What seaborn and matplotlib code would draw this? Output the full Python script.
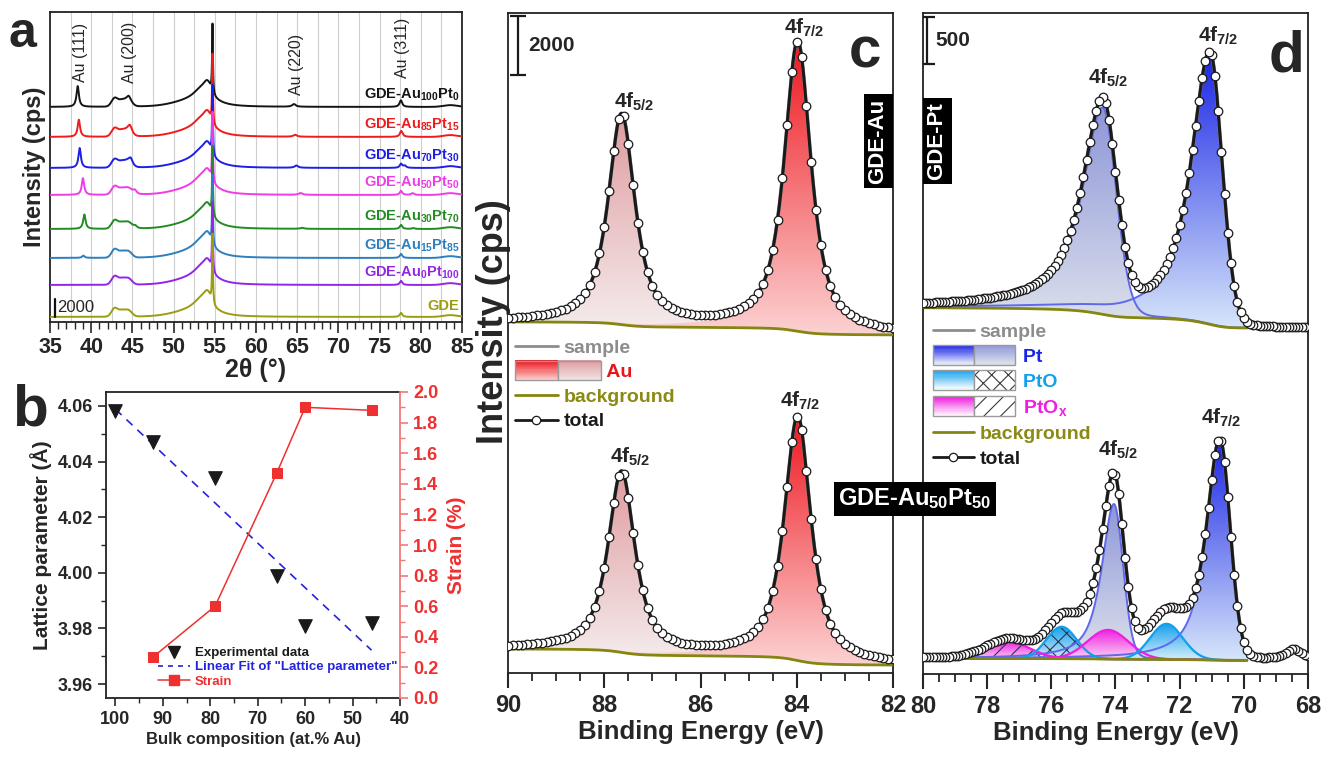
import numpy as np
import matplotlib
matplotlib.use("Agg")
import matplotlib.pyplot as plt
import seaborn as sns
from matplotlib.ticker import MultipleLocator, FormatStrFormatter
from matplotlib.colors import LinearSegmentedColormap
from matplotlib.patches import Rectangle, PathPatch
from matplotlib.lines import Line2D
from matplotlib.legend_handler import HandlerBase

# ---------------- (a) XRD patterns ----------------
xrd_labels = ["GDE-Au$_{100}$Pt$_0$", "GDE-Au$_{85}$Pt$_{15}$", "GDE-Au$_{70}$Pt$_{30}$",
              "GDE-Au$_{50}$Pt$_{50}$", "GDE-Au$_{30}$Pt$_{70}$", "GDE-Au$_{15}$Pt$_{85}$",
              "GDE-Au$_0$Pt$_{100}$", "GDE"]
xrd_colors = ["#141414", "#ee1c1c", "#1e1ee6", "#ee3ce6", "#238b23", "#2d7fbd", "#9326e6", "#9c9c14"]
xrd_offsets = [23890, 20560, 17110, 14110, 10330, 7110, 4110, 560]

# carbon / GDE substrate reflections (common to all patterns)
gde_pos = [42.85, 43.7, 44.5, 52.0, 53.6, 54.15, 54.72, 77.6, 83.6]
gde_height = [950, 600, 700, 450, 2000, 900, 7700, 450, 200]
gde_fwhm = [0.9, 0.9, 1.0, 5.0, 2.6, 0.8, 0.12, 0.35, 2.0]
gde_shape = ["G", "G", "G", "G", "L", "G", "L", "L", "G"]

# Au fcc reflections per sample
au111_pos = [38.36, 38.50, 38.60, 39.00, 39.17, 39.05, 39.2, 39.2]
au111_height = [2300, 1900, 2200, 1850, 1600, 250, 0, 0]
au200_pos = [44.55, 44.70, 44.80, 45.30, 45.35, 45.4, 45.4, 45.4]
au200_height = [450, 650, 550, 450, 300, 0, 0, 0]
au220_pos = [64.60, 64.75, 64.90, 65.40, 65.60, 65.8, 65.8, 65.8]
au220_height = [300, 220, 250, 200, 120, 0, 0, 0]
au311_pos = [77.55, 77.70, 78.05, 79.00, 79.10, 79.2, 79.2, 79.2]
au311_height = [300, 250, 250, 200, 100, 0, 0, 0]

hkl_labels = ["Au (111)", "Au (200)", "Au (220)", "Au (311)"]
hkl_label_x = [38.75, 44.7, 64.95, 77.8]
hkl_label_y = [26670, 26560, 25220, 27100]
xrd_scale = 2000

# ---------------- (b) lattice parameter / strain ----------------
comp_au = [100, 92, 79, 66, 60, 46]
lattice_a = [4.058, 4.047, 4.034, 3.999, 3.981, 3.982]
comp_strain = [92, 79, 66, 60, 46]
strain = [0.27, 0.60, 1.47, 1.90, 1.88]

# ---------------- (c) Au 4f ----------------
au_centers = [83.98, 87.64]          # 4f7/2, 4f5/2
au_height_pure = [9800, 7100]        # GDE-Au
au_height_alloy = [8250, 6100]       # GDE-Au50Pt50
au_hwhm = [0.33, 0.33]
au_eta = 0.8
c_bg_pure = [11460, 11900]           # low-BE end, high-BE end
c_bg_alloy = [270, 814]
c_scale = 2000

# ---------------- (d) Pt 4f ----------------
pt_centers_pure = [71.06, 74.40]
pt_height_pure = [2900, 2200]
pt_hw_hi_pure = [0.69, 0.75]
pt_hw_lo_pure = [0.45, 0.50]
pt_centers_alloy = [70.75, 74.05]
pt_height_alloy = [2350, 1650]
pt_hw_hi_alloy = [0.50, 0.45]
pt_hw_lo_alloy = [0.38, 0.34]
pt_eta_hi, pt_eta_lo = 0.8, 0.1
pto_centers = [72.41, 75.68]
pto_height = [380, 340]
pto_hwhm = [0.60, 0.55]
ptox_centers = [74.23, 77.35]
ptox_height = [310, 180]
ptox_hwhm = [0.75, 0.80]
d_edge_peak = [68.45, 120, 0.30]     # feature below the fitted window
d_bg_pure = [3680, 3895]
d_bg_alloy = [145, 165]
d_scale = 500

# ---------------- styling ----------------
sns.set_theme(style="ticks")
plt.rcParams.update({
    "font.family": ["Liberation Sans", "DejaVu Sans"],
    "font.weight": "bold",
    "axes.labelweight": "bold",
    "mathtext.fontset": "custom",
    "mathtext.rm": "Liberation Sans:bold",
    "mathtext.bf": "Liberation Sans:bold",
    "mathtext.it": "Liberation Sans:bold:italic",
    "mathtext.sf": "Liberation Sans:bold",
    "mathtext.default": "bf",
    "axes.linewidth": 1.3,
    "axes.edgecolor": "#222222",
    "hatch.linewidth": 0.8,
})

OLIVE = "#858512"
W, H = 1333, 758
fig = plt.figure(figsize=(W / 100, H / 100), dpi=100)


def axes_px(l, t, r, b):
    return fig.add_axes([l / W, 1 - b / H, (r - l) / W, (b - t) / H])


def lorentz(x, c, h, fwhm):
    return h / (1 + ((x - c) / (fwhm / 2)) ** 2)


def gauss(x, c, h, fwhm):
    return h * np.exp(-4 * np.log(2) * ((x - c) / fwhm) ** 2)


def pvoigt(x, c, h, w_hi, w_lo, eta_hi, eta_lo):
    d = x - c
    w = np.where(d > 0, w_hi, w_lo)
    eta = np.where(d > 0, eta_hi, eta_lo)
    u = (d / w) ** 2
    return h * (eta / (1 + u) + (1 - eta) * np.exp(-np.log(2) * u))


def shirley(be, signal, lo, hi):
    cum = np.concatenate([[0], np.cumsum((signal[1:] + signal[:-1]) / 2 * np.diff(be))])
    return lo + (hi - lo) * cum / cum[-1]


def gradient_fill(ax, x, base, top, c_top, c_bot, zorder, hatch=None):
    poly = ax.fill_between(x, base, top, facecolor="none", edgecolor="none", zorder=zorder)
    patch = PathPatch(poly.get_paths()[0], transform=ax.transData, facecolor="none", edgecolor="none")
    ax.add_patch(patch)
    cmap = LinearSegmentedColormap.from_list("grad", [c_bot, c_top])
    grad = np.linspace(0, 1, 256).reshape(-1, 1)
    im = ax.imshow(grad, cmap=cmap, aspect="auto", origin="lower", interpolation="bilinear",
                   extent=[x.min(), x.max(), base.min(), top.max()], zorder=zorder)
    im.set_clip_path(patch)
    if hatch:
        ax.fill_between(x, base, top, facecolor="none", edgecolor="#2b3550", hatch=hatch,
                        linewidth=0, zorder=zorder + 0.01)


# ================= panel a =================
ax_a = axes_px(50, 12, 462, 322)
tt = np.round(np.arange(35, 85.0001, 0.01), 2)
substrate = np.zeros_like(tt)
for p, h, f, s in zip(gde_pos, gde_height, gde_fwhm, gde_shape):
    substrate += (lorentz if s == "L" else gauss)(tt, p, h, f)

for g in np.arange(37.5, 85, 2.5):
    ax_a.axvline(g, color="#cfcfcf", lw=0.8, zorder=0)

for i, (lab, col, off) in enumerate(zip(xrd_labels, xrd_colors, xrd_offsets)):
    y = (off + substrate
         + lorentz(tt, au111_pos[i], au111_height[i], 0.35)
         + lorentz(tt, au200_pos[i], au200_height[i], 0.55)
         + lorentz(tt, au220_pos[i], au220_height[i], 0.5)
         + lorentz(tt, au311_pos[i], au311_height[i], 0.4))
    sns.lineplot(x=tt, y=y, color=col, linewidth=1.4, estimator=None, sort=False,
                 ax=ax_a, zorder=2 + i)
    ax_a.text(84.7, off + 450, lab, color=col, ha="right", va="bottom", fontsize=10.5, zorder=20)

for lab, x, y in zip(hkl_labels, hkl_label_x, hkl_label_y):
    ax_a.text(x, y, lab, rotation=90, ha="center", va="bottom", fontsize=11.5,
              fontweight="normal", zorder=20)

ax_a.plot([35.6, 35.6], [566, 566 + xrd_scale], color="#111111", lw=1.6, zorder=20)
ax_a.text(35.85, 566 + xrd_scale / 2, f"{xrd_scale}", va="center", ha="left", fontsize=12,
          fontweight="normal", zorder=20)

ax_a.set_xlim(35, 85)
ax_a.set_ylim(0, 34440)
ax_a.set_yticks([])
ax_a.xaxis.set_major_locator(MultipleLocator(5))
ax_a.xaxis.set_minor_locator(MultipleLocator(1))
ax_a.tick_params(axis="x", which="major", length=8, width=1.2, direction="out", labelsize=15.5, pad=3)
ax_a.tick_params(axis="x", which="minor", length=5, width=1.0, direction="out")
ax_a.set_xlabel("2θ (°)", fontsize=18, labelpad=0)
ax_a.set_ylabel("Intensity (cps)", fontsize=17, labelpad=3)

# ================= panel b =================
RED = "#ee3030"
ax_b = axes_px(106, 392, 400, 698)
ax_b2 = ax_b.twinx()
sns.scatterplot(x=comp_au, y=lattice_a, marker="v", s=95, color="k", edgecolor="k", ax=ax_b, zorder=4)
fit = np.polyfit(comp_au, lattice_a, 1)
x_fit = np.array([max(comp_au), min(comp_au)])
ax_b.plot(x_fit, np.polyval(fit, x_fit), color="#2424e0", lw=1.2, ls=(0, (5, 4)), zorder=3)
sns.lineplot(x=comp_strain, y=strain, marker="s", markersize=7.5, color=RED, linewidth=1.1,
             markeredgecolor=RED, estimator=None, ax=ax_b2, zorder=4)

ax_b.set_xlim(102, 40)
ax_b.set_ylim(3.955, 4.065)
ax_b2.set_ylim(0, 2.0)
ax_b.xaxis.set_major_locator(MultipleLocator(10))
ax_b.xaxis.set_minor_locator(MultipleLocator(5))
ax_b.yaxis.set_major_locator(MultipleLocator(0.02))
ax_b.yaxis.set_minor_locator(MultipleLocator(0.01))
ax_b.yaxis.set_major_formatter(FormatStrFormatter("%.2f"))
ax_b2.yaxis.set_major_locator(MultipleLocator(0.2))
ax_b2.yaxis.set_minor_locator(MultipleLocator(0.1))
ax_b2.yaxis.set_major_formatter(FormatStrFormatter("%.1f"))
ax_b.tick_params(axis="both", which="major", length=6, width=1.2, direction="out", labelsize=13)
ax_b.tick_params(axis="both", which="minor", length=3.5, width=1.0, direction="out")
ax_b2.tick_params(axis="y", which="major", length=6, width=1.2, direction="out", labelsize=13,
                  color="#f07a7a", labelcolor=RED)
ax_b2.tick_params(axis="y", which="minor", length=3.5, width=1.0, direction="out", color="#f07a7a")
ax_b.spines["right"].set_visible(False)
ax_b2.spines["right"].set_color("#f07a7a")
for s in ["left", "top", "bottom"]:
    ax_b2.spines[s].set_visible(False)
ax_b.set_xlabel("Bulk composition (at.% Au)", fontsize=12, labelpad=3)
ax_b.set_ylabel("Lattice parameter (Å)", fontsize=15, labelpad=4)
ax_b2.set_ylabel("Strain (%)", fontsize=15, color=RED, labelpad=6)

b_handles = [Line2D([], [], marker="v", color="k", ls="none", ms=9),
             Line2D([], [], color="#2424e0", lw=1.2, ls=(0, (3, 3))),
             Line2D([], [], color=RED, lw=1.1, marker="s", ms=7)]
b_labels = ["Experimental data", 'Linear Fit of "Lattice parameter"', "Strain"]
leg_b = ax_b2.legend(b_handles, b_labels, loc="upper left",
                     bbox_to_anchor=((158 - 106) / 294, (698 - 647) / 306),
                     frameon=False, prop=dict(weight="bold", size=9.5), handlelength=2.4,
                     handletextpad=0.4, labelspacing=0.15, borderaxespad=0, borderpad=0)
for t, c in zip(leg_b.get_texts(), ["k", "#2424e0", RED]):
    t.set_color(c)


# ================= legend swatch handler =================
class Swatch:
    def __init__(self, boxes):
        self.boxes = boxes


class SwatchHandler(HandlerBase):
    def create_artists(self, legend, orig_handle, xdescent, ydescent, width, height, fontsize, trans):
        arts = []
        h = height * 1.45
        y0 = -ydescent + (height - h) / 2
        x0 = -xdescent
        n = 18
        for i, (ctop, cbot, hatch) in enumerate(orig_handle.boxes):
            xi = x0 + i * width
            cmap = LinearSegmentedColormap.from_list("sw", [cbot, ctop])
            for k in range(n):
                arts.append(Rectangle((xi, y0 + k * h / n), width, h / n * 1.05,
                                      facecolor=cmap((k + 0.5) / n), edgecolor="none", transform=trans))
            if hatch:
                arts.append(Rectangle((xi, y0), width, h, facecolor="none", edgecolor="#3a3a3a",
                                      hatch=hatch, lw=0, transform=trans))
            arts.append(Rectangle((xi, y0), width, h, facecolor="none", edgecolor="#9a9a9a",
                                  lw=1.0, transform=trans))
        return arts


PAD = " " * 8

# ================= panel c =================
ax_c = axes_px(508, 13, 893, 673)
be_c = np.round(np.arange(82, 90.0001, 0.01), 2)
AU7 = ("#ee1820", "#fcd2d2")
AU5 = ("#e09ca0", "#f5eeee")

for heights, bg_ends, z in [(au_height_pure, c_bg_pure, 1), (au_height_alloy, c_bg_alloy, 1)]:
    comps = [pvoigt(be_c, au_centers[k], heights[k], au_hwhm[k], au_hwhm[k], au_eta, au_eta)
             for k in range(2)]
    bg = shirley(be_c, comps[0] + comps[1], bg_ends[0], bg_ends[1])
    total = bg + comps[0] + comps[1]
    gradient_fill(ax_c, be_c, bg, bg + comps[1], AU5[0], AU5[1], zorder=1)
    gradient_fill(ax_c, be_c, bg, bg + comps[0], AU7[0], AU7[1], zorder=1.2)
    sns.lineplot(x=be_c, y=bg, color=OLIVE, linewidth=2, estimator=None, ax=ax_c, zorder=3)
    sns.lineplot(x=be_c, y=total, color="#8c8c8c", linewidth=2.6, estimator=None, ax=ax_c, zorder=4)
    sns.lineplot(x=be_c, y=total, color="k", linewidth=2.2, estimator=None, ax=ax_c, zorder=5)
    sns.scatterplot(x=be_c[::10], y=total[::10], marker="o", s=38, color="white", edgecolor="k",
                    linewidth=0.9, ax=ax_c, zorder=6)
    if heights is au_height_pure:
        c_peak_pure = [total[np.argmin(abs(be_c - c))] for c in au_centers]
    else:
        c_peak_alloy = [total[np.argmin(abs(be_c - c))] for c in au_centers]

lbl_kw = dict(textcoords="offset points", ha="center", va="bottom", fontsize=15, zorder=10)
ax_c.annotate("4f$_{7/2}$", xy=(au_centers[0], c_peak_pure[0]), xytext=(5, 1), **lbl_kw)
ax_c.annotate("4f$_{5/2}$", xy=(au_centers[1], c_peak_pure[1]), xytext=(9, 0), **lbl_kw)
ax_c.annotate("4f$_{7/2}$", xy=(au_centers[0], c_peak_alloy[0]), xytext=(2, 3), **lbl_kw)
ax_c.annotate("4f$_{5/2}$", xy=(au_centers[1], c_peak_alloy[1]), xytext=(6, 2), **lbl_kw)

c_top = 22370
ax_c.errorbar([89.79], [c_top - 100 - c_scale / 2], yerr=c_scale / 2, fmt="none", ecolor="k",
              elinewidth=1.6, capsize=6, capthick=1.6, zorder=10)
ax_c.text(89.58, c_top - 100 - c_scale / 2, f"{c_scale}", ha="left", va="center", fontsize=15, zorder=10)

ax_c.set_xlim(90, 82)
ax_c.set_ylim(0, c_top)
ax_c.set_yticks([])
ax_c.xaxis.set_major_locator(MultipleLocator(2))
ax_c.xaxis.set_minor_locator(MultipleLocator(0.5))
ax_c.tick_params(axis="x", which="major", length=11, width=1.5, direction="out", labelsize=17, pad=4)
ax_c.tick_params(axis="x", which="minor", length=6, width=1.3, direction="out")
ax_c.set_xlabel("Binding Energy (eV)", fontsize=18.5, labelpad=2)
ax_c.set_ylabel("Intensity (cps)", fontsize=26)
ax_c.yaxis.set_label_coords(0.008, (673 - 322) / 660)

c_handles = [Line2D([], [], color="#8c8c8c", lw=2),
             Swatch([(AU7[0], AU7[1], None), (AU5[0], "#f2e6e6", None)]),
             Line2D([], [], color=OLIVE, lw=2),
             Line2D([], [], color="k", lw=2, marker="o", ms=6, mfc="white", mec="k", mew=0.9)]
c_labels = ["sample", PAD + "Au", "background", "total"]
leg_c = ax_c.legend(c_handles, c_labels, handler_map={Swatch: SwatchHandler()}, loc="upper left",
                    bbox_to_anchor=((515 - 508) / 385, (673 - 339) / 660), frameon=False,
                    prop=dict(weight="bold", size=14), handlelength=2.2, handletextpad=0.3,
                    labelspacing=0.36, borderaxespad=0, borderpad=0, numpoints=1)
for t, c in zip(leg_c.get_texts(), ["#8c8c8c", "#e8141c", "#8a8a14", "k"]):
    t.set_color(c)

# ================= panel d =================
ax_d = axes_px(923, 13, 1308, 674)
be_d = np.round(np.arange(68, 80.0001, 0.01), 2)
fit_win = be_d >= 69.9
PT7 = ("#1a24e6", "#d6e6fa")
PT5 = ("#8e96d8", "#dde2ec")
PTO = ("#12a0ec", "#d8eefb")
PTOX = ("#f01ee0", "#fadaf6")
PT_LINE = "#5f69ea"

d_peaks = {}
for case in ["pure", "alloy"]:
    if case == "pure":
        comps = [pvoigt(be_d, pt_centers_pure[k], pt_height_pure[k], pt_hw_hi_pure[k],
                        pt_hw_lo_pure[k], 0.9, pt_eta_lo) for k in range(2)]
        oxides = []
        bg_ends = d_bg_pure
        extra = np.zeros_like(be_d)
        centers = pt_centers_pure
    else:
        comps = [pvoigt(be_d, pt_centers_alloy[k], pt_height_alloy[k], pt_hw_hi_alloy[k],
                        pt_hw_lo_alloy[k], pt_eta_hi, pt_eta_lo) for k in range(2)]
        oxides = [pvoigt(be_d, ptox_centers[1], ptox_height[1], ptox_hwhm[1], ptox_hwhm[1], 0, 0),
                  pvoigt(be_d, pto_centers[1], pto_height[1], pto_hwhm[1], pto_hwhm[1], 0, 0),
                  pvoigt(be_d, ptox_centers[0], ptox_height[0], ptox_hwhm[0], ptox_hwhm[0], 0, 0),
                  pvoigt(be_d, pto_centers[0], pto_height[0], pto_hwhm[0], pto_hwhm[0], 0, 0)]
        bg_ends = d_bg_alloy
        extra = lorentz(be_d, d_edge_peak[0], d_edge_peak[1], 2 * d_edge_peak[2])
        centers = pt_centers_alloy
    signal = comps[0] + comps[1] + sum(oxides) if oxides else comps[0] + comps[1]
    bg = np.full_like(be_d, bg_ends[0])
    bg[fit_win] = shirley(be_d[fit_win], signal[fit_win], bg_ends[0], bg_ends[1])
    total = bg + signal + extra
    xw, bw = be_d[fit_win], bg[fit_win]

    gradient_fill(ax_d, xw, bw, bw + comps[0][fit_win], PT7[0], PT7[1], zorder=1)
    gradient_fill(ax_d, xw, bw, bw + comps[1][fit_win], PT5[0], PT5[1], zorder=1.1)
    for comp in comps:
        ax_d.plot(xw, bw + comp[fit_win], color=PT_LINE, lw=1.4, zorder=2.5)
    if oxides:
        styles = [(PTOX, "//"), (PTO, "xx"), (PTOX, None), (PTO, None)]
        for j, (ox, (cc, hatch)) in enumerate(zip(oxides, styles)):
            gradient_fill(ax_d, xw, bw, bw + ox[fit_win], cc[0], cc[1], zorder=1.5 + 0.1 * j, hatch=hatch)
            ax_d.plot(xw, bw + ox[fit_win], color=cc[0], lw=1.6, zorder=2.6)
    sns.lineplot(x=xw, y=bw, color=OLIVE, linewidth=2, estimator=None, ax=ax_d, zorder=3)
    sns.lineplot(x=xw, y=total[fit_win], color="#8c8c8c", linewidth=2.6, estimator=None, ax=ax_d, zorder=4)
    sns.lineplot(x=xw, y=total[fit_win], color="k", linewidth=2.2, estimator=None, ax=ax_d, zorder=5)
    sns.scatterplot(x=be_d[::10], y=total[::10], marker="o", s=38, color="white", edgecolor="k",
                    linewidth=0.9, ax=ax_d, zorder=6)
    d_peaks[case] = [total[np.argmin(abs(be_d - c))] for c in centers]
    d_peaks[case + "_x"] = centers

ax_d.annotate("4f$_{7/2}$", xy=(d_peaks["pure_x"][0], d_peaks["pure"][0]), xytext=(6, 3), **lbl_kw)
ax_d.annotate("4f$_{5/2}$", xy=(d_peaks["pure_x"][1], d_peaks["pure"][1]), xytext=(4, 6), **lbl_kw)
ax_d.annotate("4f$_{7/2}$", xy=(d_peaks["alloy_x"][0], d_peaks["alloy"][0]), xytext=(1, 7), **lbl_kw)
ax_d.annotate("4f$_{5/2}$", xy=(d_peaks["alloy_x"][1], d_peaks["alloy"][1]), xytext=(3, 8), **lbl_kw)

d_top = 7030
ax_d.errorbar([79.88], [d_top - 40 - d_scale / 2], yerr=d_scale / 2, fmt="none", ecolor="k",
              elinewidth=1.6, capsize=6, capthick=1.6, zorder=10)
ax_d.text(79.6, d_top - 40 - d_scale / 2, f"{d_scale}", ha="left", va="center", fontsize=15, zorder=10)

ax_d.set_xlim(80, 68)
ax_d.set_ylim(0, d_top)
ax_d.set_yticks([])
ax_d.xaxis.set_major_locator(MultipleLocator(2))
ax_d.xaxis.set_minor_locator(MultipleLocator(0.5))
ax_d.tick_params(axis="x", which="major", length=11, width=1.5, direction="out", labelsize=17, pad=4)
ax_d.tick_params(axis="x", which="minor", length=6, width=1.3, direction="out")
ax_d.set_xlabel("Binding Energy (eV)", fontsize=18.5, labelpad=2)

d_handles = [Line2D([], [], color="#8c8c8c", lw=2),
             Swatch([(PT7[0], "#eef3fb", None), (PT5[0], "#dfe3ec", None)]),
             Swatch([(PTO[0], "#ffffff", None), ("#ffffff", "#ffffff", "xx")]),
             Swatch([(PTOX[0], "#ffffff", None), ("#ffffff", "#ffffff", "//")]),
             Line2D([], [], color=OLIVE, lw=2),
             Line2D([], [], color="k", lw=2, marker="o", ms=6, mfc="white", mec="k", mew=0.9)]
d_labels = ["sample", PAD + "Pt", PAD + "PtO", PAD + "PtO$_x$", "background", "total"]
leg_d = ax_d.legend(d_handles, d_labels, handler_map={Swatch: SwatchHandler()}, loc="upper left",
                    bbox_to_anchor=((933 - 923) / 385, (674 - 323) / 661), frameon=False,
                    prop=dict(weight="bold", size=14), handlelength=2.1, handletextpad=0.3,
                    labelspacing=0.38, borderaxespad=0, borderpad=0, numpoints=1)
for t, c in zip(leg_d.get_texts(), ["#8c8c8c", "#1a24e6", "#12a0ec", "#f01ee0", "#8a8a14", "k"]):
    t.set_color(c)

# ================= labels and sample tags =================
box = dict(facecolor="black", edgecolor="none", boxstyle="square,pad=0.18")
fig.text(878 / W, 1 - 141 / H, "GDE-Au", rotation=90, color="white", fontsize=16,
         ha="center", va="center", bbox=box, zorder=30)
fig.text(937 / W, 1 - 141 / H, "GDE-Pt", rotation=90, color="white", fontsize=16,
         ha="center", va="center", bbox=box, zorder=30)
fig.text(915 / W, 1 - 499 / H, "GDE-Au$_{50}$Pt$_{50}$", color="white", fontsize=17,
         ha="center", va="center", bbox=box, zorder=30)

fig.text(8 / W, 1 - 47 / H, "a", fontsize=36, ha="left", va="baseline")
fig.text(12 / W, 1 - 425 / H, "b", fontsize=42, ha="left", va="baseline")
fig.text(849 / W, 1 - 67 / H, "c", fontsize=42, ha="left", va="baseline")
fig.text(1269 / W, 1 - 72 / H, "d", fontsize=42, ha="left", va="baseline")

fig.savefig("out.png", dpi=100)
